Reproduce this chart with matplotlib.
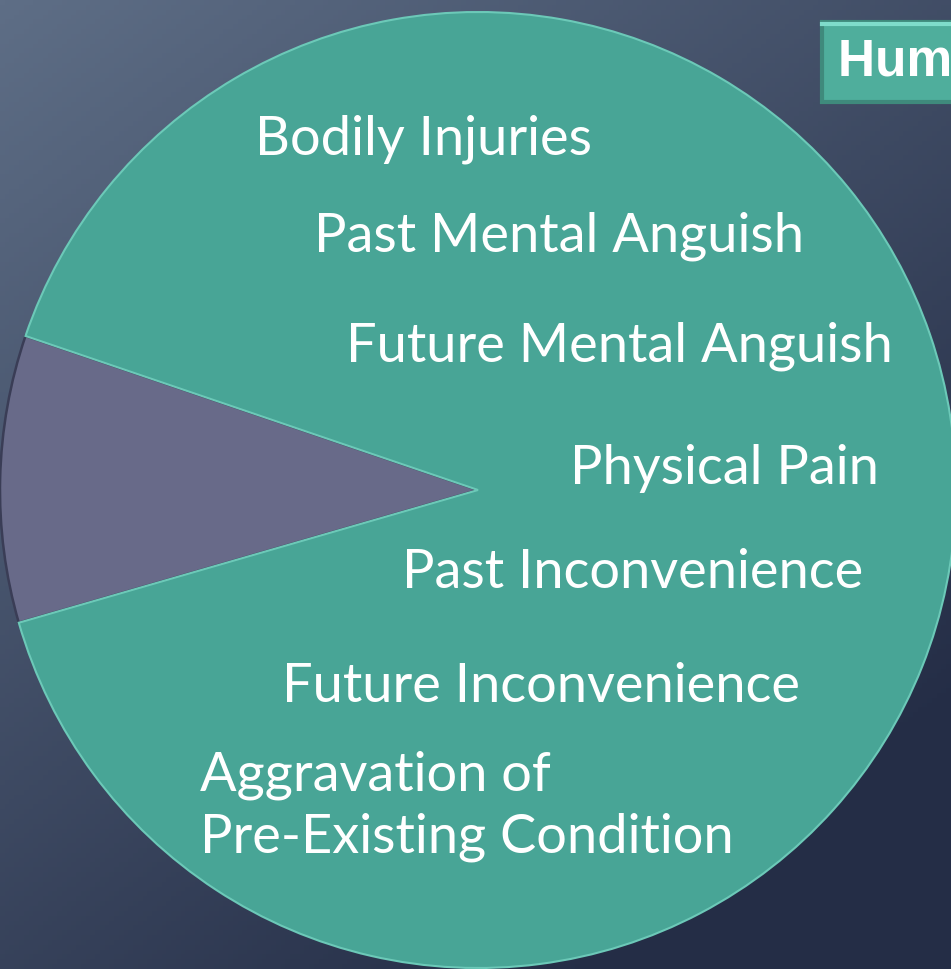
import numpy as np
import matplotlib.pyplot as plt
from matplotlib.patches import FancyBboxPatch

# data
slice_names = ['Other', 'Human Damages']
slice_sizes = [9.7, 90.3]
slice_colors = ['#686a89', '#48a596']
items = ['Bodily Injuries', 'Past Mental Anguish', 'Future Mental Anguish',
         'Physical Pain', 'Past Inconvenience', 'Future Inconvenience',
         'Aggravation of\nPre-Existing Condition']
title = 'Human Damages'

# layout (pixels, top-left origin)
W, H = 951, 969
item_x = [255, 314, 346, 570, 402, 282, 200]
item_y = [139, 236, 346, 468, 573, 686, 806]

fig = plt.figure(figsize=(W / 100, H / 100), dpi=100)
ax = fig.add_axes([0, 0, 1, 1])

# background gradient, light slate top-left to dark navy bottom-right
yy, xx = np.mgrid[0:1:200j, 0:1:200j]
t = np.clip((xx * 0.55 + (1 - yy) * 0.75) / 1.1, 0, 1)
c0 = np.array([0x5e, 0x6e, 0x86]) / 255
c1 = np.array([0x24, 0x2d, 0x46]) / 255
bg = c0 + (c1 - c0) * t[..., None]
ax.imshow(bg, extent=[0, W, 0, H], origin='lower', aspect='auto', zorder=0)

cx, cy, r = 478, H - 490, 478
wedges, _ = ax.pie(slice_sizes, colors=slice_colors, startangle=161.2,
                   center=(cx, cy), radius=r, frame=True,
                   wedgeprops=dict(linewidth=1.8, edgecolor='#3a3d56'))
wedges[1].set_edgecolor('#6cc9b8')
wedges[1].set_linewidth(1.5)
for w in wedges:
    w.set_zorder(2)
ax.set_xlim(0, W)
ax.set_ylim(0, H)
ax.set_aspect('equal')
ax.axis('off')

for txt, x, y in zip(items, item_x, item_y):
    ax.text(x, H - y, txt, color='white', fontsize=39, family='Lato',
            va='center', ha='left', linespacing=1.3, zorder=3)

# title box, cut off at right edge
box = FancyBboxPatch((822, H - 102), 300, 80, boxstyle='square,pad=0',
                     facecolor='#4fae9c', edgecolor='#3f8a7c', linewidth=3,
                     zorder=4)
ax.add_patch(box)
ax.plot([822, 951], [H - 24, H - 24], color='#7fdccb', lw=3, zorder=4.5)
ax.text(838, H - 62, title, color='white', fontsize=37, fontweight='bold',
        family='Liberation Sans', va='center', ha='left', zorder=5,
        clip_on=True)

fig.savefig('out.png', dpi=100)
